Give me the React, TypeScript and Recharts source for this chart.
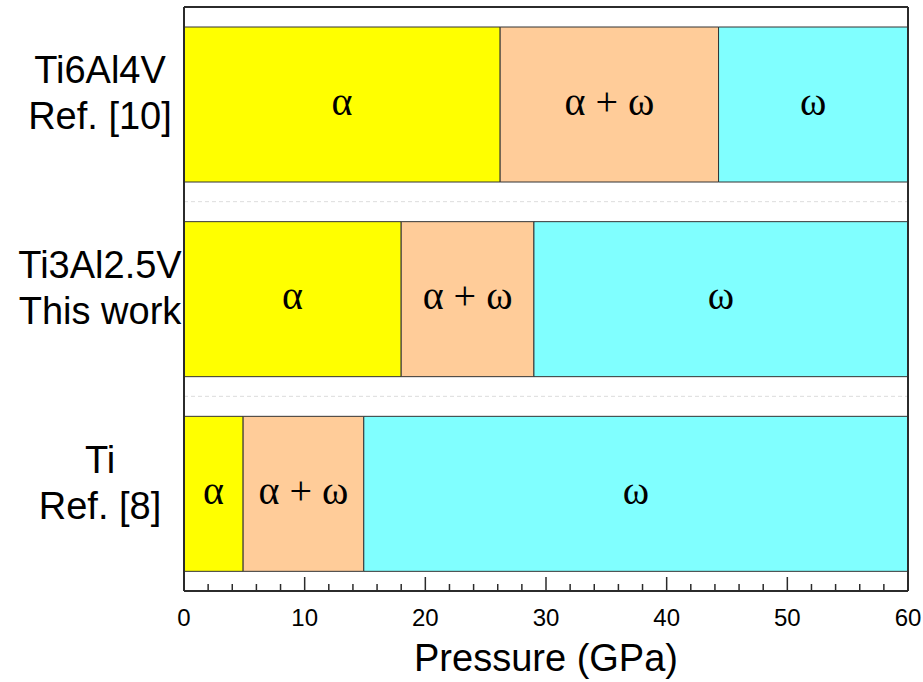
import React from 'react';
import {
  BarChart,
  Bar,
  XAxis,
  YAxis,
  CartesianGrid,
  LabelList,
} from 'recharts';

// Alloys (rows, top to bottom) and where each result comes from
const categories = ['Ti6Al4V', 'Ti3Al2.5V', 'Ti'];
const sources = ['Ref. [10]', 'This work', 'Ref. [8]'];

// Pressure (GPa) where each phase region ends
const alphaEnd = [26.2, 18.0, 4.9];
const mixedEnd = [44.3, 29.0, 14.9];
const omegaEnd = [60, 60, 60];

const phaseLabels = ['α', 'α + ω', 'ω'];
const phaseColors = ['#FFFF00', '#FFCC99', '#80FFFF'];

const majorTicks = [0, 10, 20, 30, 40, 50, 60];
const minorTicks = [0, 2, 4, 6, 8, 10, 12, 14, 16, 18, 20, 22, 24, 26, 28, 30, 32, 34, 36, 38, 40, 42, 44, 46, 48, 50, 52, 54, 56, 58, 60];

const data = categories.map((name, i) => ({
  name,
  source: sources[i],
  alpha: alphaEnd[i],
  mixed: mixedEnd[i] - alphaEnd[i],
  omega: omegaEnd[i] - mixedEnd[i],
}));

const sans = '"Liberation Sans", Arial, sans-serif';
const serif = '"Liberation Serif", "Times New Roman", serif';
const frame = '#2b2b2b';

const MAJOR_LEN = 14;
const MINOR_LEN = 7;

// Pressure ticks: drawn inward from the axis line, longer on multiples of 10
const PressureTick = (props: any) => {
  const { x, y, payload, side } = props;
  const isMajor = majorTicks.includes(payload.value);
  const len = isMajor ? MAJOR_LEN : MINOR_LEN;
  const dir = side === 'top' ? 1 : -1;
  return (
    <g>
      <line x1={x} x2={x} y1={y} y2={y + dir * len} stroke={frame} strokeWidth={1.5} />
      {side !== 'top' && isMajor ? (
        <text x={x} y={y + 35} textAnchor="middle" fontFamily={sans} fontSize={24} fill="#000">
          {payload.value}
        </text>
      ) : null}
    </g>
  );
};

const AlloyTick = (props: any) => {
  const { x, y, payload } = props;
  const row = data.find((d) => d.name === payload.value);
  return (
    <g>
      <text x={x - 84} y={y - 21} textAnchor="middle" fontFamily={sans} fontSize={38} fill="#000">
        {payload.value}
      </text>
      <text x={x - 84} y={y + 25} textAnchor="middle" fontFamily={sans} fontSize={38} fill="#000">
        {row ? row.source : ''}
      </text>
    </g>
  );
};

const phaseLabel = (text: string) => (props: any) => {
  const { x, y, width, height } = props;
  return (
    <text
      x={x + width / 2}
      y={y + height / 2 + 10}
      textAnchor="middle"
      fontFamily={serif}
      fontSize={40}
      fill="#000"
    >
      {text}
    </text>
  );
};

// Dashed separators sit on the boundaries between neighbouring alloy rows
const rowBoundaries = (props: any) => {
  const off = props?.offset;
  if (!off || typeof off.top !== 'number' || typeof off.height !== 'number') return [];
  const n = categories.length;
  return categories.slice(1).map((_, i) => off.top + (off.height * (i + 1)) / n);
};

export default function App() {
  const keys = ['alpha', 'mixed', 'omega'];
  return (
    <div style={{ position: 'absolute', left: 0, top: 0, background: '#fff' }}>
      <BarChart
        width={923}
        height={682}
        data={data}
        layout="vertical"
        margin={{ top: 6, right: 14, bottom: 0, left: 0 }}
        barCategoryGap={20}
      >
        <CartesianGrid
          vertical={false}
          stroke="#dddddd"
          strokeDasharray="4 3"
          horizontalCoordinatesGenerator={rowBoundaries}
        />
        <XAxis
          type="number"
          domain={[0, 60]}
          ticks={minorTicks}
          interval={0}
          height={91}
          tickSize={0}
          tickMargin={0}
          tickLine={false}
          axisLine={{ stroke: frame, strokeWidth: 2 }}
          tick={<PressureTick side="bottom" />}
          label={{
            value: 'Pressure (GPa)',
            position: 'bottom',
            offset: -91 + 53,
            style: { fontFamily: sans, fontSize: 38, fill: '#000' },
          }}
        />
        <XAxis
          type="number"
          domain={[0, 60]}
          ticks={minorTicks}
          interval={0}
          xAxisId="top"
          orientation="top"
          height={1}
          tickSize={0}
          tickMargin={0}
          tickLine={false}
          axisLine={{ stroke: frame, strokeWidth: 2 }}
          tick={<PressureTick side="top" />}
        />
        <YAxis
          type="category"
          dataKey="name"
          width={184}
          tickLine={false}
          tickSize={0}
          tickMargin={0}
          axisLine={{ stroke: frame, strokeWidth: 2 }}
          tick={<AlloyTick />}
        />
        <YAxis
          yAxisId="right"
          type="category"
          dataKey="name"
          orientation="right"
          width={1}
          tick={false}
          tickLine={false}
          axisLine={{ stroke: frame, strokeWidth: 2 }}
        />
        {keys.map((k, i) => (
          <Bar
            key={k}
            dataKey={k}
            stackId="phase"
            fill={phaseColors[i]}
            stroke="#333"
            strokeWidth={1}
            isAnimationActive={false}
          >
            <LabelList dataKey={k} content={phaseLabel(phaseLabels[i])} />
          </Bar>
        ))}
      </BarChart>
    </div>
  );
}
